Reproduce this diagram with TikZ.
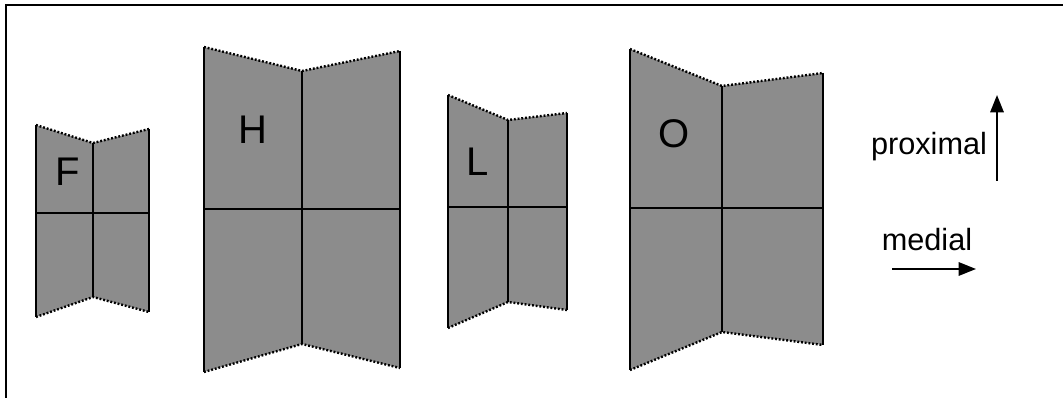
\documentclass[tikz,border=0pt]{standalone}
\usepackage{fontspec}
\setmainfont{Liberation Sans}
\usetikzlibrary{arrows.meta}
\definecolor{panelgray}{RGB}{140,140,140}

\begin{document}
\begin{tikzpicture}[x=0.75pt, y=-0.75pt, >={Triangle[length=13pt,width=10pt]},
        panel/.style={fill=panelgray},
        seam/.style={line width=1.5pt},
        rim/.style={line width=1.8pt, dash pattern=on 1.4pt off 1.4pt},
        letter/.style={font=\fontsize{30}{32}\selectfont},
        axislabel/.style={font=\fontsize{23}{26}\selectfont}]
    \useasboundingbox (0,0) rectangle (1063,398);
    % frame
    \draw[line width=1.6pt] (1063,5) -- (6,5) -- (6,398);

    % the four folded panels
    \foreach \n/\l/\m/\r/\lt/\mt/\rt/\lb/\mb/\rb/\h in {
            F/36/93/149/125/143/129/317/297/312/213,
            H/204/302/400/47/71/51/372/344/368/209,
            L/448/508/567/95/120/113/328/302/310/207,
            O/630/722/823/49/86/73/370/332/345/208}{
        \coordinate (\n-lt) at (\l,\lt);
        \coordinate (\n-mt) at (\m,\mt);
        \coordinate (\n-rt) at (\r,\rt);
        \coordinate (\n-lb) at (\l,\lb);
        \coordinate (\n-mb) at (\m,\mb);
        \coordinate (\n-rb) at (\r,\rb);
        \coordinate (\n-lh) at (\l,\h);
        \coordinate (\n-rh) at (\r,\h);
        \fill[panel] (\n-lt) -- (\n-mt) -- (\n-rt) -- (\n-rb) -- (\n-mb) -- (\n-lb) -- cycle;
        \draw[rim] (\n-lt) -- (\n-mt) -- (\n-rt);
        \draw[rim] (\n-lb) -- (\n-mb) -- (\n-rb);
        \draw[seam] (\n-lt) -- (\n-lb);
        \draw[seam] (\n-mt) -- (\n-mb);
        \draw[seam] (\n-rt) -- (\n-rb);
        \draw[seam] (\n-lh) -- (\n-rh);
    }

    \node[letter] (labF) at (68,172) {F};
    \node[letter] (labH) at (253,130) {H};
    \node[letter] (labL) at (478,162) {L};
    \node[letter] (labO) at (674,134) {O};

    % direction key
    \node[axislabel] (proximal) at (929,147) {proximal};
    \node[axislabel] (medial) at (927,240) {medial};
    \coordinate (up-from) at (997,181);
    \coordinate (up-to) at (997,95);
    \coordinate (right-from) at (892,269);
    \coordinate (right-to) at (976,269);
    \draw[->, line width=1.6pt] (up-from) -- (up-to);
    \draw[->, line width=1.6pt] (right-from) -- (right-to);
\end{tikzpicture}
\end{document}
